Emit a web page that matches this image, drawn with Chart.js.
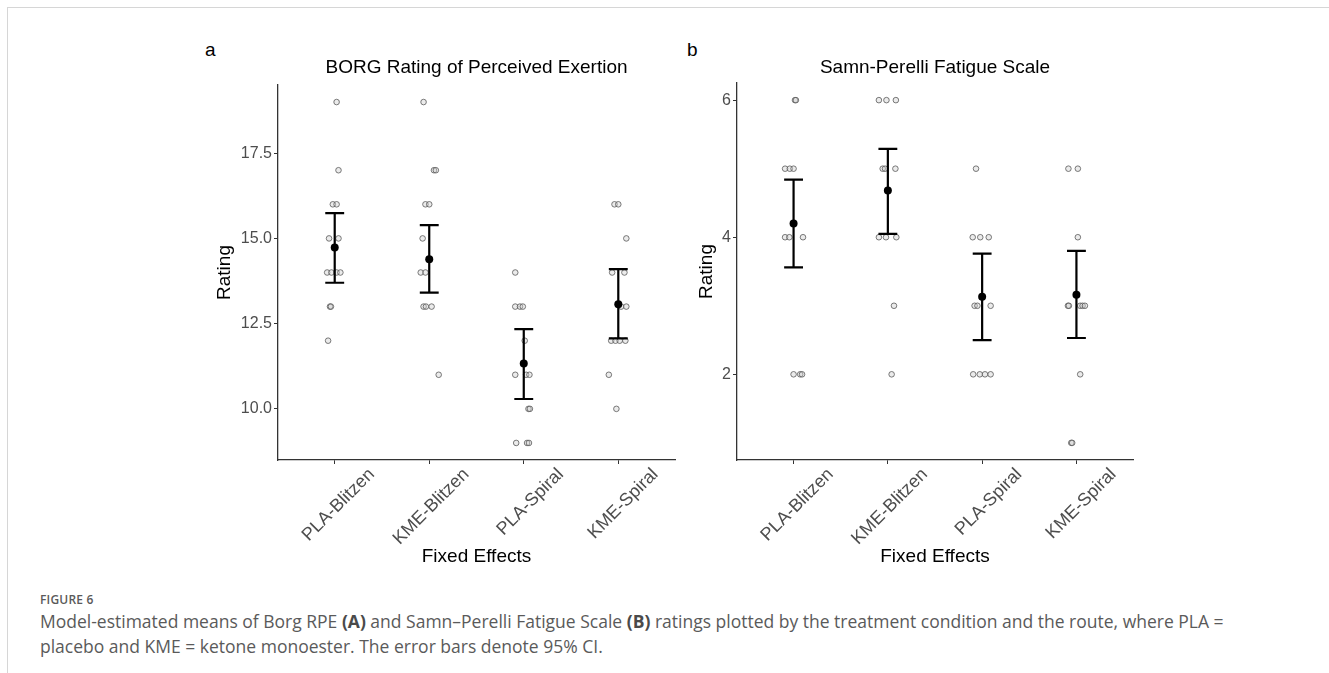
<!DOCTYPE html>
<html>
<head>
<meta charset="utf-8">
<title>Figure 6</title>
<script src="https://cdn.jsdelivr.net/npm/chart.js@4.4.1/dist/chart.umd.min.js"></script>
<style>
  body { margin: 0; background: #fff; }
  #page { position: relative; width: 1329px; height: 673px; overflow: hidden; font-family: "Liberation Sans", Arial, sans-serif; }
  #frame { position: absolute; left: 7px; top: 7px; right: -2px; bottom: -2px; border-top: 1px solid #d6d6d6; border-left: 1px solid #d6d6d6; }
  .tag { position: absolute; font-size: 19px; line-height: 19px; color: #000; }
  canvas { position: absolute; }
  #caption { position: absolute; left: 40px; top: 591px; font-family: "Open Sans", sans-serif; color: #5a5a5a; white-space: nowrap; }
  #caption .fig { font-size: 12px; font-weight: 600; letter-spacing: 0.2px; line-height: 18px; }
  #caption .txt { font-size: 17.5px; line-height: 25px; }
  #caption b { font-weight: 700; color: #4a4a4a; }
</style>
</head>
<body>
<div id="page">
  <div id="frame"></div>
  <div class="tag" style="left:205px; top:40px;">a</div>
  <div class="tag" style="left:687px; top:40px;">b</div>
  <canvas id="borg-chart" width="490" height="545" style="left:190px; top:30px;"></canvas>
  <canvas id="sp-chart" width="460" height="545" style="left:680px; top:30px;"></canvas>
  <div id="caption">
    <div class="fig">FIGURE 6</div>
    <div class="txt">Model-estimated means of Borg RPE <b>(A)</b> and Samn&ndash;Perelli Fatigue Scale <b>(B)</b> ratings plotted by the treatment condition and the route, where PLA =<br>placebo and KME = ketone monoester. The error bars denote 95% CI.</div>
  </div>
</div>
<script>
'use strict'

// **** DATA ****
const conditions = ['PLA-Blitzen', 'KME-Blitzen', 'PLA-Spiral', 'KME-Spiral'];

// BORG RPE - individual ratings and their horizontal jitter (category units)
const borgRatings = [
  [19, 17, 16, 16, 15, 15, 14, 14, 14, 14, 13, 13, 12],
  [19, 17, 17, 16, 16, 15, 14, 14, 13, 13, 13, 11],
  [14, 13, 13, 13, 12, 11, 11, 11, 10, 10, 9, 9, 9],
  [16, 16, 15, 14, 14, 13, 13, 12, 12, 12, 12, 11, 10]
];
const borgJitter = [
  [0.02, 0.04, -0.02, 0.02, -0.06, 0.04, -0.08, -0.035, 0.02, 0.06, -0.05, -0.04, -0.07],
  [-0.06, 0.05, 0.07, -0.04, 0.0, -0.07, -0.09, -0.04, -0.06, -0.035, 0.025, 0.10],
  [-0.09, -0.09, -0.04, -0.01, 0.01, -0.09, 0.025, 0.06, 0.05, 0.065, -0.08, 0.035, 0.055],
  [-0.04, 0.0, 0.085, -0.065, 0.065, 0.03, 0.085, -0.075, -0.03, 0.015, 0.075, -0.1, -0.02]
];
const borgMean = [14.73, 14.39, 11.33, 13.07];
const borgLower = [13.70, 13.41, 10.29, 12.07];
const borgUpper = [15.74, 15.39, 12.34, 14.10];
const borgTicks = [10, 12.5, 15, 17.5];

// Samn-Perelli fatigue scale
const spRatings = [
  [6, 6, 5, 5, 5, 4, 4, 4, 2, 2, 2],
  [6, 6, 6, 5, 5, 5, 4, 4, 4, 3, 2],
  [5, 4, 4, 4, 3, 3, 3, 2, 2, 2, 2],
  [5, 5, 4, 3, 3, 3, 3, 3, 2, 1, 1]
];
const spJitter = [
  [0.015, 0.025, -0.09, -0.04, 0.0, -0.09, -0.045, 0.1, 0.0, 0.07, 0.09],
  [-0.095, -0.015, 0.085, -0.055, -0.03, 0.08, -0.095, -0.02, 0.09, 0.065, 0.04],
  [-0.065, -0.1, -0.02, 0.07, -0.08, -0.05, 0.09, -0.095, -0.025, 0.03, 0.09],
  [-0.085, 0.015, 0.015, -0.09, -0.08, 0.04, 0.065, 0.09, 0.04, -0.055, -0.045]
];
const spMean = [4.20, 4.68, 3.13, 3.16];
const spLower = [3.56, 4.05, 2.50, 2.53];
const spUpper = [4.84, 5.29, 3.76, 3.80];
const spTicks = [2, 4, 6];

// **** HELPERS ****
const capHalf = 0.1;
const axisColor = '#333333';
const tickTextColor = '#4d4d4d';
const fontFamily = '"Liberation Sans", Arial, sans-serif';

function pointData(ratings, jitter) {
  let out = [];
  for (let i = 0; i < ratings.length; i++) {
    for (let j = 0; j < ratings[i].length; j++) {
      out.push({x: i + 1 + jitter[i][j], y: ratings[i][j]});
    }
  }
  return out;
}

function errorBarData(lower, upper) {
  let out = [];
  for (let i = 0; i < lower.length; i++) {
    let x = i + 1;
    out.push({x: x - capHalf, y: upper[i]}, {x: x + capHalf, y: upper[i]}, {x: x, y: null});
    out.push({x: x, y: upper[i]}, {x: x, y: lower[i]}, {x: x, y: null});
    out.push({x: x - capHalf, y: lower[i]}, {x: x + capHalf, y: lower[i]}, {x: x, y: null});
  }
  return out;
}

function meanData(means) {
  return means.map((m, i) => ({x: i + 1, y: m}));
}

function buildPanel(canvasId, p) {
  const ctx = document.getElementById(canvasId);
  const config = {
    type: 'scatter',
    data: {
      datasets: [
        {
          data: meanData(p.means),
          pointRadius: 4,
          pointBackgroundColor: '#000',
          pointBorderColor: '#000',
          pointBorderWidth: 0,
          order: 1
        },
        {
          data: errorBarData(p.lower, p.upper),
          showLine: true,
          spanGaps: false,
          borderColor: '#000',
          borderWidth: 2.2,
          pointRadius: 0,
          order: 2
        },
        {
          data: pointData(p.ratings, p.jitter),
          pointRadius: 2.8,
          pointBorderWidth: 1,
          pointBorderColor: 'rgba(90, 90, 90, 0.8)',
          pointBackgroundColor: 'rgba(205, 205, 205, 0.4)',
          order: 3
        }
      ]
    },
    options: {
      responsive: false,
      animation: false,
      events: [],
      layout: { padding: { left: 0, right: p.padRight, top: 0, bottom: 0 } },
      plugins: {
        legend: { display: false },
        tooltip: { enabled: false },
        title: {
          display: true,
          text: p.title,
          fullSize: false,
          color: '#000',
          font: { family: fontFamily, size: 19, weight: 'normal' },
          padding: { top: 26.6, bottom: p.titleGap }
        }
      },
      scales: {
        x: {
          type: 'linear',
          min: 0.4,
          max: 4.6,
          afterBuildTicks: s => { s.ticks = conditions.map((c, i) => ({value: i + 1})); },
          afterFit: s => { s.height = 115; },
          border: { display: true, color: axisColor, width: 1.3 },
          grid: { display: true, drawOnChartArea: false, drawTicks: true, tickLength: 4, tickColor: axisColor, tickWidth: 1 },
          ticks: {
            autoSkip: false,
            minRotation: 45,
            maxRotation: 45,
            padding: 0,
            labelOffset: 37,
            color: tickTextColor,
            font: { family: fontFamily, size: 18 },
            callback: v => conditions[Math.round(v) - 1]
          },
          title: {
            display: true,
            text: 'Fixed Effects',
            color: '#000',
            font: { family: fontFamily, size: 19 },
            padding: { top: 0, bottom: 6.6 }
          }
        },
        y: {
          type: 'linear',
          min: p.yMin,
          max: p.yMax,
          afterBuildTicks: s => { s.ticks = p.ticks.map(v => ({value: v})); },
          afterFit: s => { s.width = p.axisWidth; },
          border: { display: true, color: axisColor, width: 1.3 },
          grid: { display: true, drawOnChartArea: false, drawTicks: true, tickLength: 4, tickColor: axisColor, tickWidth: 1 },
          ticks: {
            padding: 2,
            color: tickTextColor,
            font: { family: fontFamily, size: 16 },
            callback: v => p.fmt(v)
          },
          title: {
            display: true,
            text: 'Rating',
            color: '#000',
            font: { family: fontFamily, size: 19 },
            padding: { top: p.ratingGap, bottom: 0 }
          }
        }
      }
    }
  };
  return new Chart(ctx, config);
}

// **** EXECUTABLE CODE ****
buildPanel('borg-chart', {
  title: 'BORG Rating of Perceived Exertion',
  ratings: borgRatings, jitter: borgJitter,
  means: borgMean, lower: borgLower, upper: borgUpper,
  ticks: borgTicks, yMin: 8.5, yMax: 19.5,
  fmt: v => v.toFixed(1),
  axisWidth: 88, ratingGap: 23.6, padRight: 4, titleGap: 5.6
});

buildPanel('sp-chart', {
  title: 'Samn-Perelli Fatigue Scale',
  ratings: spRatings, jitter: spJitter,
  means: spMean, lower: spLower, upper: spUpper,
  ticks: spTicks, yMin: 0.75, yMax: 6.25,
  fmt: v => String(v),
  axisWidth: 57, ratingGap: 15.6, padRight: 7, titleGap: 3.6
});
</script>
</body>
</html>
